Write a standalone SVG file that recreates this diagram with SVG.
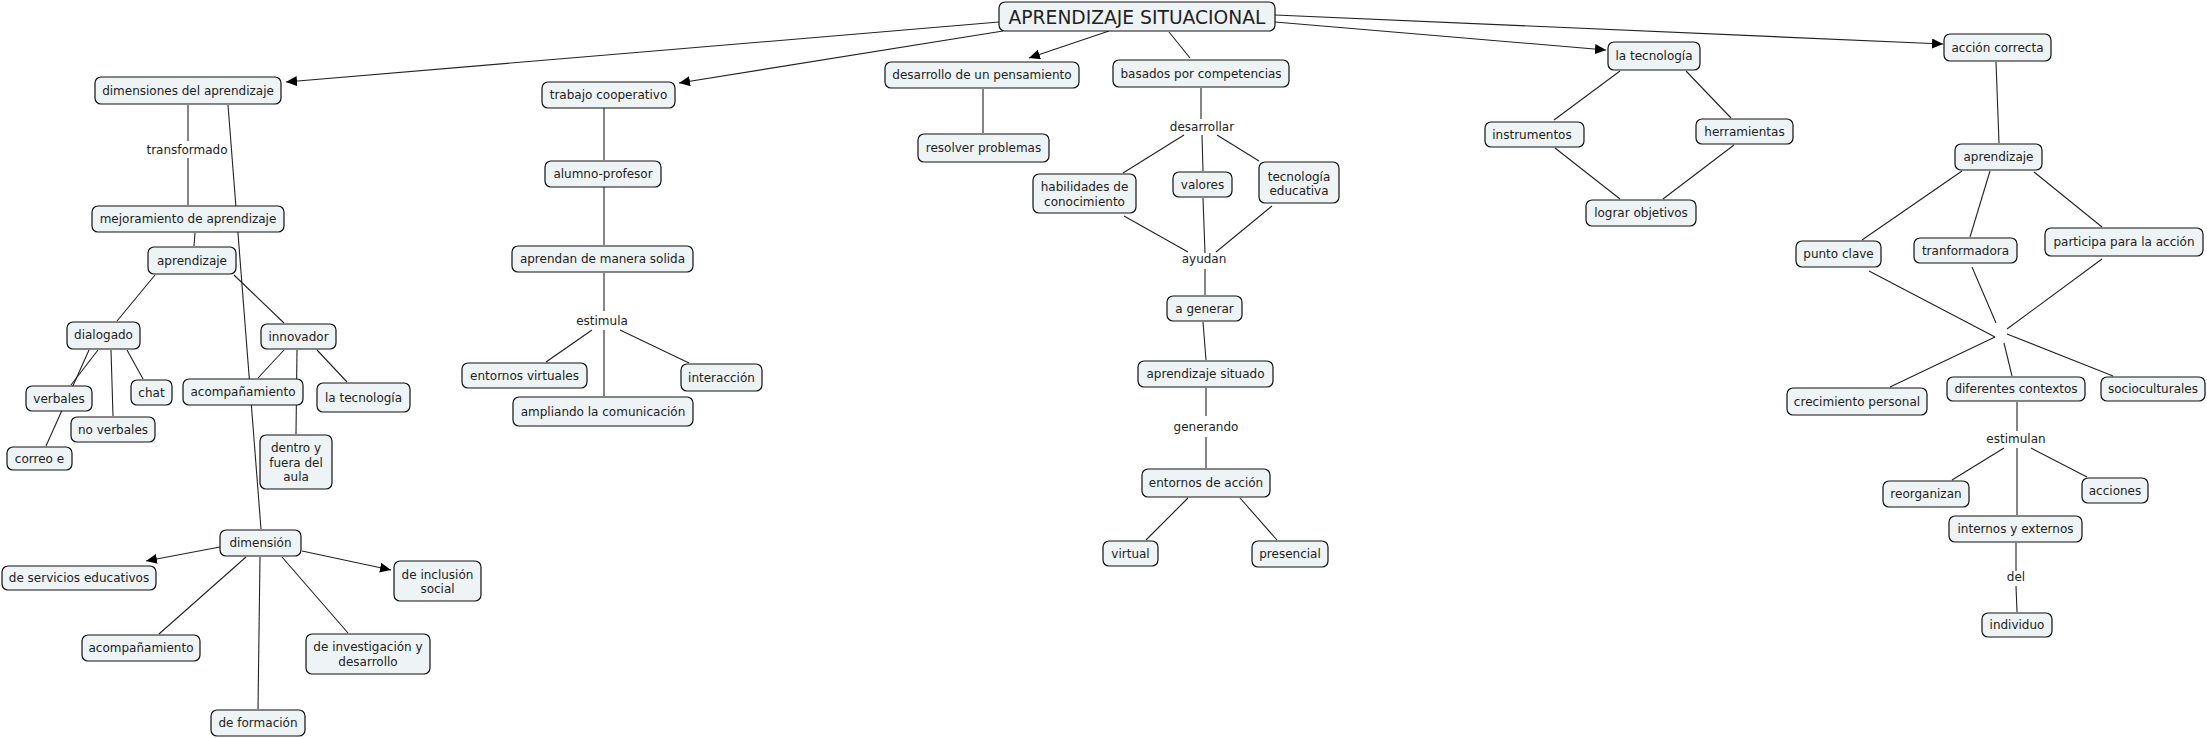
<svg xmlns="http://www.w3.org/2000/svg" width="2207" height="738" viewBox="0 0 2207 738">
<defs>
<marker id="arr" markerUnits="userSpaceOnUse" markerWidth="12" markerHeight="10" refX="11" refY="5" orient="auto"><path d="M0,0 L11,5 L0,10 z" fill="#000"/></marker>
<style>
.n rect{fill:#eef3f5;stroke:#111;stroke-width:1.2}
text{font-family:"DejaVu Sans",Verdana,sans-serif;font-size:12px;fill:#222;text-anchor:middle}
.t{font-size:18.7px}
#connectors line{stroke:#222;stroke-width:1.1}
.a{marker-end:url(#arr)}
</style>
</defs>
<rect width="2207" height="738" fill="#fff"/>
<g id="connectors">
<line class="a" x1="999" y1="22" x2="286" y2="82"/>
<line class="a" x1="1003" y1="31" x2="679" y2="83"/>
<line class="a" x1="1109" y1="31" x2="1029" y2="58"/>
<line x1="1169" y1="32" x2="1190" y2="58"/>
<line class="a" x1="1275" y1="22" x2="1606" y2="50"/>
<line class="a" x1="1275" y1="15" x2="1943" y2="44"/>
<line x1="188" y1="105" x2="188" y2="141"/>
<line x1="188" y1="158" x2="188" y2="205"/>
<line x1="228" y1="105" x2="261" y2="529"/>
<line x1="195" y1="233" x2="194" y2="246"/>
<line x1="155" y1="275" x2="117" y2="321"/>
<line x1="234" y1="275" x2="284" y2="323"/>
<line x1="89" y1="350" x2="46" y2="446"/>
<line x1="98" y1="350" x2="71" y2="385"/>
<line x1="111" y1="350" x2="113" y2="416"/>
<line x1="127" y1="350" x2="143" y2="379"/>
<line x1="284" y1="350" x2="258" y2="378"/>
<line x1="297" y1="350" x2="296" y2="434"/>
<line x1="317" y1="350" x2="347" y2="382"/>
<line class="a" x1="220" y1="547" x2="146" y2="561"/>
<line class="a" x1="302" y1="551" x2="391" y2="570"/>
<line x1="246" y1="557" x2="159" y2="634"/>
<line x1="260" y1="557" x2="258" y2="709"/>
<line x1="282" y1="557" x2="348" y2="633"/>
<line x1="604" y1="108" x2="604" y2="160"/>
<line x1="604" y1="187" x2="604" y2="245"/>
<line x1="604" y1="273" x2="604" y2="311"/>
<line x1="592" y1="330" x2="546" y2="362"/>
<line x1="604" y1="330" x2="604" y2="396"/>
<line x1="620" y1="330" x2="689" y2="363"/>
<line x1="983" y1="89" x2="983" y2="133"/>
<line x1="1201" y1="88" x2="1201" y2="119"/>
<line x1="1184" y1="135" x2="1123" y2="173"/>
<line x1="1202" y1="135" x2="1203" y2="171"/>
<line x1="1217" y1="135" x2="1259" y2="161"/>
<line x1="1124" y1="216" x2="1188" y2="252"/>
<line x1="1203" y1="198" x2="1205" y2="253"/>
<line x1="1272" y1="206" x2="1216" y2="252"/>
<line x1="1205" y1="269" x2="1205" y2="295"/>
<line x1="1203" y1="322" x2="1206" y2="360"/>
<line x1="1206" y1="388" x2="1206" y2="416"/>
<line x1="1206" y1="437" x2="1206" y2="468"/>
<line x1="1188" y1="498" x2="1146" y2="540"/>
<line x1="1240" y1="498" x2="1277" y2="540"/>
<line x1="1620" y1="71" x2="1554" y2="120"/>
<line x1="1686" y1="71" x2="1731" y2="118"/>
<line x1="1555" y1="148" x2="1620" y2="199"/>
<line x1="1734" y1="145" x2="1663" y2="199"/>
<line x1="1996" y1="62" x2="1999" y2="143"/>
<line x1="1962" y1="171" x2="1862" y2="240"/>
<line x1="1990" y1="171" x2="1970" y2="237"/>
<line x1="2034" y1="172" x2="2102" y2="227"/>
<line x1="1869" y1="271" x2="1995" y2="337"/>
<line x1="1972" y1="267" x2="1996" y2="323"/>
<line x1="2102" y1="259" x2="2007" y2="329"/>
<line x1="1995" y1="337" x2="1890" y2="387"/>
<line x1="2004" y1="343" x2="2012" y2="376"/>
<line x1="2007" y1="334" x2="2113" y2="376"/>
<line x1="2017" y1="402" x2="2017" y2="431"/>
<line x1="2004" y1="448" x2="1952" y2="480"/>
<line x1="2017" y1="448" x2="2017" y2="515"/>
<line x1="2031" y1="448" x2="2087" y2="477"/>
<line x1="2016" y1="543" x2="2016" y2="571"/>
<line x1="2016" y1="586" x2="2017" y2="612"/>
</g>
<g id="labels">
<text x="187" y="154">transformado</text>
<text x="602" y="325">estimula</text>
<text x="1202" y="131">desarrollar</text>
<text x="1204" y="263">ayudan</text>
<text x="1206" y="431">generando</text>
<text x="2016" y="443">estimulan</text>
<text x="2016" y="581">del</text>
</g>
<g id="n1" class="n"><rect x="999" y="2" width="276" height="29" rx="6"/><text class="t" x="1137" y="23.5">APRENDIZAJE SITUACIONAL</text></g>
<g id="n2" class="n"><rect x="95" y="77" width="186" height="27" rx="6"/><text x="188" y="95">dimensiones del aprendizaje</text></g>
<g id="n3" class="n"><rect x="92" y="206" width="192" height="26" rx="6"/><text x="188" y="223">mejoramiento de aprendizaje</text></g>
<g id="n4" class="n"><rect x="148" y="247" width="88" height="27" rx="6"/><text x="192" y="265">aprendizaje</text></g>
<g id="n5" class="n"><rect x="67" y="322" width="73" height="27" rx="6"/><text x="103.5" y="339">dialogado</text></g>
<g id="n6" class="n"><rect x="261" y="324" width="75" height="25" rx="6"/><text x="298.5" y="341">innovador</text></g>
<g id="n7" class="n"><rect x="26" y="386" width="66" height="25" rx="6"/><text x="59" y="403">verbales</text></g>
<g id="n8" class="n"><rect x="131" y="380" width="41" height="25" rx="6"/><text x="151.5" y="397">chat</text></g>
<g id="n9" class="n"><rect x="71" y="417" width="84" height="25" rx="6"/><text x="113" y="434">no verbales</text></g>
<g id="n10" class="n"><rect x="7" y="447" width="65" height="23" rx="6"/><text x="39.5" y="463">correo e</text></g>
<g id="n11" class="n"><rect x="183" y="379" width="120" height="26" rx="6"/><text x="243" y="396">acompañamiento</text></g>
<g id="n12" class="n"><rect x="317" y="383" width="93" height="29" rx="6"/><text x="363.5" y="401.5">la tecnología</text></g>
<g id="n13" class="n"><rect x="260" y="435" width="72" height="54" rx="6"/><text x="296" y="452">dentro y</text><text x="296" y="467">fuera del</text><text x="296" y="481">aula</text></g>
<g id="n14" class="n"><rect x="220" y="530" width="81" height="26" rx="6"/><text x="260.5" y="547">dimensión</text></g>
<g id="n15" class="n"><rect x="2" y="566" width="154" height="24" rx="6"/><text x="79" y="582">de servicios educativos</text></g>
<g id="n16" class="n"><rect x="394" y="561" width="87" height="40" rx="6"/><text x="437.5" y="579">de inclusión</text><text x="437.5" y="593">social</text></g>
<g id="n17" class="n"><rect x="82" y="635" width="118" height="26" rx="6"/><text x="141" y="652">acompañamiento</text></g>
<g id="n18" class="n"><rect x="211" y="710" width="94" height="26" rx="6"/><text x="258" y="727">de formación</text></g>
<g id="n19" class="n"><rect x="306" y="634" width="124" height="40" rx="6"/><text x="368" y="651">de investigación y</text><text x="368" y="666">desarrollo</text></g>
<g id="n20" class="n"><rect x="542" y="82" width="133" height="26" rx="6"/><text x="608.5" y="99">trabajo cooperativo</text></g>
<g id="n21" class="n"><rect x="545" y="161" width="116" height="26" rx="6"/><text x="603" y="178">alumno-profesor</text></g>
<g id="n22" class="n"><rect x="512" y="246" width="181" height="26" rx="6"/><text x="602.5" y="263">aprendan de manera solida</text></g>
<g id="n23" class="n"><rect x="462" y="363" width="125" height="25" rx="6"/><text x="524.5" y="380">entornos virtuales</text></g>
<g id="n24" class="n"><rect x="681" y="364" width="81" height="27" rx="6"/><text x="721.5" y="381.5">interacción</text></g>
<g id="n25" class="n"><rect x="513" y="397" width="180" height="29" rx="6"/><text x="603" y="415.5">ampliando la comunicación</text></g>
<g id="n26" class="n"><rect x="885" y="62" width="194" height="26" rx="6"/><text x="982" y="79">desarrollo de un pensamiento</text></g>
<g id="n27" class="n"><rect x="918" y="134" width="131" height="28" rx="6"/><text x="983.5" y="152">resolver problemas</text></g>
<g id="n28" class="n"><rect x="1113" y="60" width="176" height="27" rx="6"/><text x="1201" y="77.5">basados por competencias</text></g>
<g id="n29" class="n"><rect x="1033" y="174" width="103" height="39" rx="6"/><text x="1084.5" y="191">habilidades de</text><text x="1084.5" y="206">conocimiento</text></g>
<g id="n30" class="n"><rect x="1173" y="172" width="59" height="25" rx="6"/><text x="1202.5" y="189">valores</text></g>
<g id="n31" class="n"><rect x="1259" y="162" width="80" height="41" rx="6"/><text x="1299" y="181">tecnología</text><text x="1299" y="195">educativa</text></g>
<g id="n32" class="n"><rect x="1167" y="296" width="75" height="25" rx="6"/><text x="1204.5" y="313">a generar</text></g>
<g id="n33" class="n"><rect x="1138" y="361" width="135" height="26" rx="6"/><text x="1205.5" y="378">aprendizaje situado</text></g>
<g id="n34" class="n"><rect x="1142" y="469" width="128" height="28" rx="6"/><text x="1206" y="487">entornos de acción</text></g>
<g id="n35" class="n"><rect x="1103" y="541" width="55" height="25" rx="6"/><text x="1130.5" y="558">virtual</text></g>
<g id="n36" class="n"><rect x="1252" y="541" width="76" height="26" rx="6"/><text x="1290" y="558">presencial</text></g>
<g id="n37" class="n"><rect x="1608" y="42" width="92" height="28" rx="6"/><text x="1654" y="60">la tecnología</text></g>
<g id="n38" class="n"><rect x="1485" y="122" width="99" height="25" rx="6"/><text x="1532" y="139">instrumentos</text></g>
<g id="n39" class="n"><rect x="1696" y="119" width="97" height="25" rx="6"/><text x="1744.5" y="136">herramientas</text></g>
<g id="n40" class="n"><rect x="1586" y="200" width="110" height="26" rx="6"/><text x="1641" y="217">lograr objetivos</text></g>
<g id="n41" class="n"><rect x="1944" y="34" width="107" height="27" rx="6"/><text x="1997.5" y="52">acción correcta</text></g>
<g id="n42" class="n"><rect x="1955" y="144" width="87" height="26" rx="6"/><text x="1998.5" y="161">aprendizaje</text></g>
<g id="n43" class="n"><rect x="1796" y="241" width="85" height="26" rx="6"/><text x="1838.5" y="258">punto clave</text></g>
<g id="n44" class="n"><rect x="1914" y="238" width="103" height="25" rx="6"/><text x="1965.5" y="255">tranformadora</text></g>
<g id="n45" class="n"><rect x="2045" y="228" width="158" height="28" rx="6"/><text x="2124" y="246">participa para la acción</text></g>
<g id="n46" class="n"><rect x="1787" y="388" width="140" height="27" rx="6"/><text x="1857" y="406">crecimiento personal</text></g>
<g id="n47" class="n"><rect x="1947" y="377" width="138" height="24" rx="6"/><text x="2016" y="393">diferentes contextos</text></g>
<g id="n48" class="n"><rect x="2101" y="377" width="104" height="24" rx="6"/><text x="2153" y="393">socioculturales</text></g>
<g id="n49" class="n"><rect x="1883" y="481" width="86" height="26" rx="6"/><text x="1926" y="498">reorganizan</text></g>
<g id="n50" class="n"><rect x="2082" y="478" width="66" height="25" rx="6"/><text x="2115" y="495">acciones</text></g>
<g id="n51" class="n"><rect x="1949" y="516" width="133" height="26" rx="6"/><text x="2015.5" y="533">internos y externos</text></g>
<g id="n52" class="n"><rect x="1982" y="613" width="70" height="24" rx="6"/><text x="2017" y="629">individuo</text></g>
</svg>
